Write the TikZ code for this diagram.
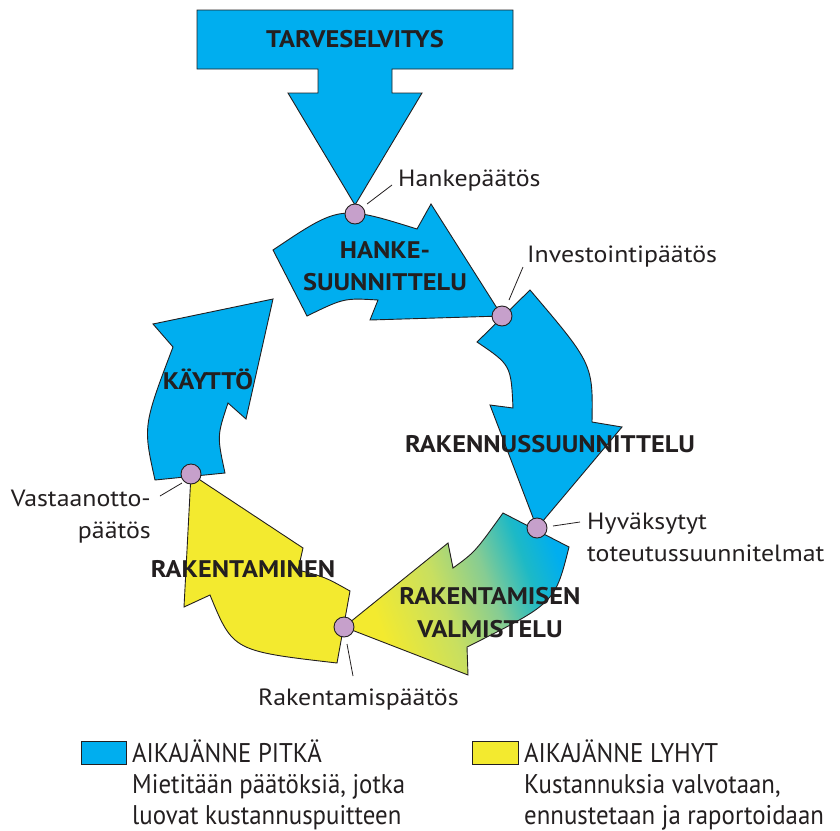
\documentclass[tikz,border=0pt]{standalone}
\usepackage{fontspec}
\setmainfont{PT Sans}
\newfontfamily\condfont[FakeStretch=0.92]{PT Sans}
\newfontfamily\widefont[FakeStretch=1.1]{PT Sans}
\definecolor{cyanA}{HTML}{00AEEF}
\definecolor{yelA}{HTML}{F3EA2F}
\definecolor{grnA}{HTML}{C8DF60}
\definecolor{grnB}{HTML}{86CC93}
\definecolor{tealA}{HTML}{1DB9C6}
\definecolor{lilac}{HTML}{C6A0CB}
\definecolor{ink}{HTML}{231F20}
\pgfdeclarehorizontalshading{valmshade}{100bp}{color(0bp)=(yelA); color(30bp)=(yelA);
  color(46bp)=(grnA); color(58bp)=(grnB); color(68bp)=(tealA); color(76bp)=(cyanA); color(100bp)=(cyanA)}
\tikzset{
  arrowshape/.style={draw=ink, line width=0.9pt, line join=miter},
  bluearrow/.style={arrowshape, fill=cyanA},
  yellowarrow/.style={arrowshape, fill=yelA},
  gradarrow/.style={arrowshape, shading=valmshade, shading angle=20},
  decision/.style={circle, draw=ink, line width=0.9pt, fill=lilac, minimum size=20pt, inner sep=0pt},
  leader/.style={draw=ink, line width=0.8pt},
  lbl/.style={text=ink, font=\widefont\fontsize{23.5}{28}\selectfont, inner sep=0pt},
  phase/.style={text=ink, font=\widefont\fontsize{24}{28}\selectfont\bfseries, inner sep=0pt},
  legtxt/.style={text=ink, font=\condfont\fontsize{27}{31}\selectfont, inner sep=0pt, anchor=base west},
  legbox/.style={draw=ink, line width=0.9pt}
}
\begin{document}
\begin{tikzpicture}[x=1pt, y=-1pt]
\useasboundingbox (0,0) rectangle (840,830);
% top arrow
\draw[bluearrow] (197,10) -- (513,10) -- (513,69) -- (392,69) -- (392,93) -- (422,93)
  -- (355,205) -- (288,93) -- (318,93) -- (318,69) -- (197,69) -- cycle;
% arrow 1 hankesuunnittelu
\draw[bluearrow] (273,250) .. controls (340,205) .. (417,229) -- (431,204) -- (502,316)
  -- (370,320) -- (378,300) .. controls (344,298) .. (307,316) -- cycle;
% arrow 2 rakennussuunnittelu
\draw[bluearrow] (530,290) .. controls (593,364) .. (592,422) -- (622,427) -- (537,528)
  -- (490,405) -- (513,408) .. controls (511,365) .. (477,342) -- cycle;
% arrow 3 rakentamisen valmistelu
\draw[gradarrow] (503,513) .. controls (475,552) .. (453,568) -- (448,543) -- (344,627)
  -- (468,675) -- (467,647) .. controls (555,603) .. (569,547) -- cycle;
% arrow 4 rakentaminen
\draw[yellowarrow] (350,591) .. controls (325,577) .. (298,570) -- (303,548) -- (191,474)
  -- (184,607) -- (210,595) .. controls (233,651) .. (337,663) -- cycle;
% arrow 5 kaytto
\draw[bluearrow] (225,473) -- (155,480) .. controls (143,426) .. (173,347) -- (153,324)
  -- (273,299) -- (246,419) -- (228,403) .. controls (217,436) .. (225,473) -- cycle;
% decision points
\node[decision] (d1) at (355,214) {};
\node[decision] (d2) at (502,316) {};
\node[decision] (d3) at (537,528) {};
\node[decision] (d4) at (344,627) {};
\node[decision] (d5) at (191,474) {};
% labels
\node[lbl, anchor=base west] (l1) at (398,186) {Hankepäätös};
\node[lbl, anchor=base west] (l2) at (527,262) {Investointipäätös};
\node[lbl, anchor=base west] (l3a) at (587,529) {Hyväksytyt};
\node[lbl, anchor=base west] (l3b) at (587,561) {toteutussuunnitelmat};
\node[lbl, anchor=base west] (l4) at (258,705) {Rakentamispäätös};
\node[lbl, anchor=base east] (l5a) at (151,506) {Vastaanotto-};
\node[lbl, anchor=base east] (l5b) at (151,538) {päätös};
\coordinate (c1a) at (367,204); \coordinate (c1b) at (392,185);
\coordinate (c2a) at (509,300); \coordinate (c2b) at (523,267);
\coordinate (c3a) at (553,526); \coordinate (c3b) at (580,522);
\coordinate (c4a) at (347,644); \coordinate (c4b) at (353,676);
\coordinate (c5a) at (182,483); \coordinate (c5b) at (160,496);
\draw[leader] (c1a) -- (c1b);
\draw[leader] (c2a) -- (c2b);
\draw[leader] (c3a) -- (c3b);
\draw[leader] (c4a) -- (c4b);
\draw[leader] (c5a) -- (c5b);
% phase names
\node[phase, anchor=base] (p0) at (355,47) {TARVESELVITYS};
\node[phase, anchor=base] (p1a) at (385,258) {HANKE-};
\node[phase, anchor=base] (p1b) at (385,290) {SUUNNITTELU};
\node[phase, anchor=base] (p2) at (550,452) {RAKENNUSSUUNNITTELU};
\node[phase, anchor=base] (p3a) at (490,604) {RAKENTAMISEN};
\node[phase, anchor=base] (p3b) at (490,637) {VALMISTELU};
\node[phase, anchor=base] (p4) at (243,577) {RAKENTAMINEN};
\node[phase, anchor=base] (p5) at (208,389) {KÄYTTÖ};
% legend
\draw[legbox, fill=cyanA] (81,741) rectangle (126,764);
\draw[legbox, fill=yelA] (472,741) rectangle (518,764);
\node[legtxt] (g1) at (132,762) {AIKAJÄNNE PITKÄ};
\node[legtxt] (g2) at (132,793) {Mietitään päätöksiä, jotka};
\node[legtxt] (g3) at (132,824) {luovat kustannuspuitteen};
\node[legtxt] (g4) at (524,762) {AIKAJÄNNE LYHYT};
\node[legtxt] (g5) at (524,793) {Kustannuksia valvotaan,};
\node[legtxt] (g6) at (524,824) {ennustetaan ja raportoidaan};
\end{tikzpicture}
\end{document}
